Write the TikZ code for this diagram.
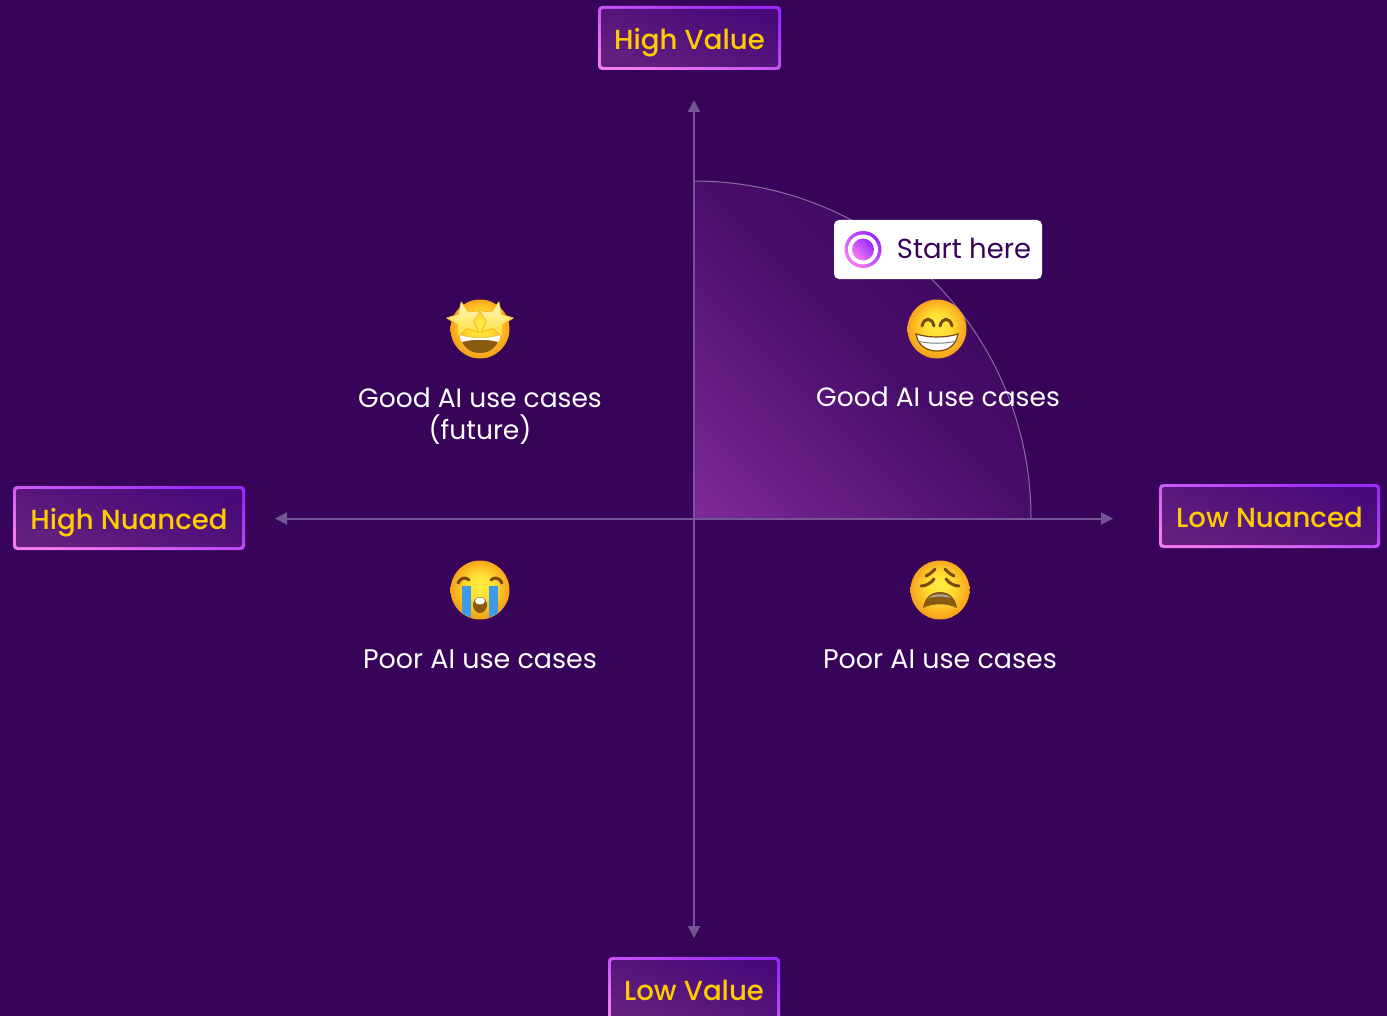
\documentclass[tikz,border=0pt]{standalone}
\usepackage{fontspec}
\setmainfont{Poppins}
\newfontfamily\mediumfont{Poppins Medium}
\usetikzlibrary{arrows.meta,shapes.geometric}

\definecolor{bgpurple}{HTML}{37045A}
\definecolor{axisgrey}{HTML}{755496}
\definecolor{fanglow}{HTML}{7E2A9A}
\definecolor{rimpink}{HTML}{F57CF0}
\definecolor{rimviolet}{HTML}{9A2BFF}
\definecolor{boxlight}{HTML}{641F7E}
\definecolor{boxdark}{HTML}{470A78}
\definecolor{labelyellow}{HTML}{FFCC00}
\definecolor{facemouth}{HTML}{8A5A10}
\definecolor{facebrown}{HTML}{7A4A0C}
\definecolor{tearblue}{HTML}{3E9BEA}
\definecolor{starpale}{HTML}{FFF8C0}
\definecolor{ballcore}{HTML}{FFEE44}
\definecolor{ballmid}{HTML}{FFDD33}
\definecolor{ballamber}{HTML}{FBB321}
\definecolor{ballrim}{HTML}{EE8A14}

\pgfdeclareradialshading{emojiball}{\pgfpoint{0bp}{5bp}}{%
  color(0bp)=(ballcore);
  color(11bp)=(ballmid);
  color(21bp)=(ballamber);
  color(30bp)=(ballrim)}

\newcommand{\pxu}{0.75pt}
\tikzset{
  rim/.style={rounded corners=4*\pxu, inner sep=0pt, bottom color=rimpink, top color=rimviolet, shading angle=-20},
  plate/.style={rounded corners=2.5*\pxu, inner sep=0pt, bottom color=boxlight, top color=boxdark, shading angle=-20,
    text=labelyellow, text height=22pt, text depth=5pt, font=\mediumfont\fontsize{20.7pt}{24pt}\selectfont},
  axisline/.style={axisgrey, line width=2*\pxu, -{Triangle[length=12*\pxu,width=12*\pxu]}},
  usecase/.style={text=white, inner sep=0pt, align=center, font=\fontsize{19.9pt}{24pt}\selectfont},
  poorcase/.style={usecase, font=\fontsize{20.2pt}{24pt}\selectfont},
  face/.style={circle, inner sep=0pt, minimum size=59*\pxu, shading=emojiball},
  feature/.style={facebrown, line width=3*\pxu, line cap=round},
  sparkle/.style={star, star points=5, star point ratio=2.1, inner sep=0pt, minimum size=37*\pxu, draw=ballamber, line width=0.8*\pxu, top color=starpale, bottom color=ballmid},
}

\begin{document}
\begin{tikzpicture}[x=0.75pt,y=-0.75pt]
\useasboundingbox (0,0) rectangle (1387,1016);
\clip (0,0) rectangle (1387,1016);
\fill[bgpurple] (0,0) rectangle (1387,1016);

% quarter circle
\begin{scope}
\clip (694,518) -- (694,181) .. controls (880,181) and (1031,332) .. (1031,518) -- cycle;
\begin{scope}[transform canvas={shift={(694,518)},rotate=-45}]
\shade[bottom color=fanglow, top color=bgpurple, middle color=bgpurple!75!fanglow] (-240,-476) rectangle (240,0);
\end{scope}
\end{scope}
\draw[white,opacity=0.4,line width=1*\pxu] (694,181) .. controls (880,181) and (1031,332) .. (1031,518);

% axes
\coordinate (centre) at (694,518.5);
\coordinate (topend) at (694,100);
\coordinate (bottomend) at (694,938);
\coordinate (leftend) at (275,518.5);
\coordinate (rightend) at (1113,518.5);
\draw[axisline] (centre) -- (topend);
\draw[axisline] (centre) -- (bottomend);
\draw[axisline] (centre) -- (leftend);
\draw[axisline] (centre) -- (rightend);

% axis labels
\node[rim,minimum width=183*\pxu,minimum height=64*\pxu] (highvaluerim) at (689.5,38) {};
\node[plate,minimum width=177*\pxu,minimum height=58*\pxu] (highvalue) at (689.5,38) {High Value};
\node[rim,minimum width=232*\pxu,minimum height=64*\pxu] (highnuancedrim) at (129,518) {};
\node[plate,minimum width=226*\pxu,minimum height=58*\pxu] (highnuanced) at (129,518) {High Nuanced};
\node[rim,minimum width=221*\pxu,minimum height=64*\pxu] (lownuancedrim) at (1269.5,516) {};
\node[plate,minimum width=215*\pxu,minimum height=58*\pxu] (lownuanced) at (1269.5,516) {Low Nuanced};
\node[rim,minimum width=172*\pxu,minimum height=64*\pxu] (lowvaluerim) at (694,989) {};
\node[plate,minimum width=166*\pxu,minimum height=58*\pxu] (lowvalue) at (694,989) {Low Value};

% start here
\node[fill=white,rounded corners=5*\pxu,minimum width=208*\pxu,minimum height=59*\pxu] (starthere) at (938,249.5) {};
\node[circle,inner sep=0pt,minimum size=37*\pxu,bottom color=rimpink,top color=rimviolet,shading angle=-45] (radioring) at (863,249.5) {};
\node[circle,fill=white,inner sep=0pt,minimum size=30*\pxu] (radiogap) at (863,249.5) {};
\node[circle,inner sep=0pt,minimum size=22*\pxu,bottom color=rimpink,top color=rimviolet,shading angle=-45] (radiodot) at (863,249.5) {};
\node[text=bgpurple,inner sep=0pt,font=\fontsize{20.6pt}{24pt}\selectfont] (starttext) at (964,248.5) {Start here};

% star eyes
\node[face] (stareyes) at (480,329) {};
\begin{scope}[shift={(stareyes.center)}]
\fill[facemouth] (-20,6) .. controls (-8,10) and (8,10) .. (20,6) .. controls (18,18) and (10,24) .. (0,24) .. controls (-10,24) and (-18,18) .. (-20,6) -- cycle;
\fill[white] (-20,6) .. controls (-8,10) and (8,10) .. (20,6) .. controls (20,10) and (19,12) .. (18,13) .. controls (8,10) and (-8,10) .. (-18,13) .. controls (-19,12) and (-20,10) .. (-20,6) -- cycle;
\node[sparkle,rotate=12] (starleft) at (-15,-9) {};
\node[sparkle,rotate=-12] (starright) at (15,-9) {};
\end{scope}

% grin
\node[face] (grin) at (937,329) {};
\begin{scope}[shift={(grin.center)}]
\draw[feature] (-15,-3) .. controls (-13,-12) and (-5,-12) .. (-3,-3);
\draw[feature] (3,-3) .. controls (5,-12) and (13,-12) .. (15,-3);
\draw[facebrown,fill=white,line width=1.2*\pxu] (-21,5) .. controls (-8,9) and (8,9) .. (21,5) .. controls (19,17) and (10,22) .. (0,22) .. controls (-10,22) and (-19,17) .. (-21,5) -- cycle;
\draw[gray,line width=1*\pxu] (-20,12) .. controls (-8,15) and (8,15) .. (20,12);
\end{scope}

% crying
\node[face] (crying) at (480,590) {};
\begin{scope}[shift={(crying.center)}]
\draw[feature] (-22,-7) .. controls (-19,-13) and (-14,-13) .. (-11,-10);
\draw[feature] (22,-7) .. controls (19,-13) and (14,-13) .. (11,-10);
\clip (0,0) circle (29);
\fill[tearblue] (-18,-4) rectangle (-9,30);
\fill[tearblue] (9,-4) rectangle (18,30);
\fill[facemouth] (0,15) ellipse (7 and 8);
\fill[white] (0,11) ellipse (5 and 3.5);
\end{scope}

% weary
\node[face] (weary) at (940,590) {};
\begin{scope}[shift={(weary.center)}]
\draw[feature] (-5,-21) .. controls (-9,-17) and (-11,-15) .. (-14,-14);
\draw[feature] (5,-21) .. controls (9,-17) and (11,-15) .. (14,-14);
\draw[feature] (-19,-4) .. controls (-14,-4) and (-9,-7) .. (-6,-11);
\draw[feature] (19,-4) .. controls (14,-4) and (9,-7) .. (6,-11);
\fill[facemouth] (-17,18) .. controls (-15,6) and (-8,2) .. (0,2) .. controls (8,2) and (15,6) .. (17,18) .. controls (8,13) and (-8,13) .. (-17,18) -- cycle;
\fill[gray!70] (-11,8) .. controls (-7,3) and (7,3) .. (11,8) .. controls (5,6) and (-5,6) .. (-11,8) -- cycle;
\end{scope}

% use cases
\node[usecase] (goodfuture) at (480,416.5) {Good AI use cases\\(future)};
\node[usecase] (goodnow) at (938,397) {Good AI use cases};
\node[poorcase] (poorleft) at (480,659) {Poor AI use cases};
\node[poorcase] (poorright) at (940,659) {Poor AI use cases};
\end{tikzpicture}
\end{document}
